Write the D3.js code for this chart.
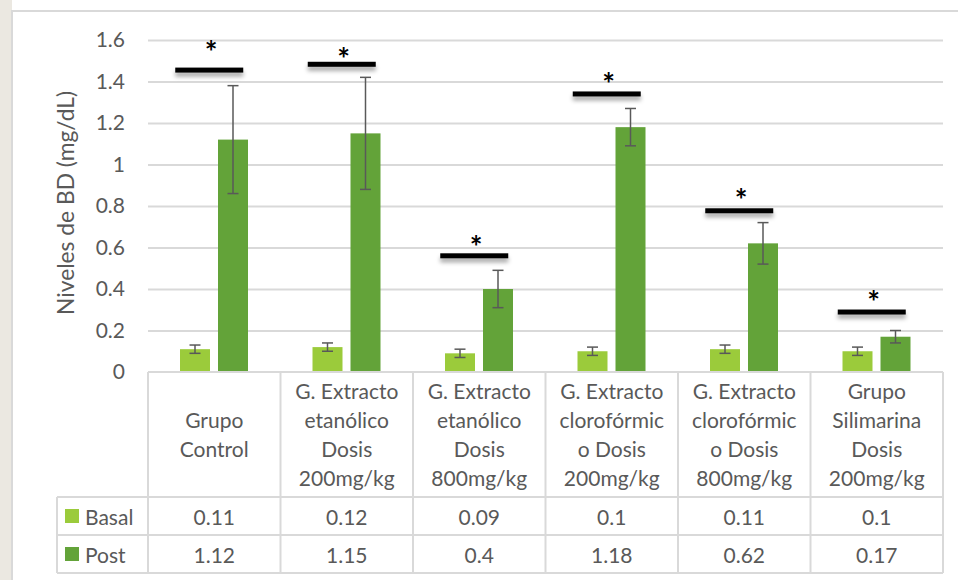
<!DOCTYPE html>
<html>
<head>
<meta charset="utf-8">
<script src="https://cdn.jsdelivr.net/npm/d3@7"></script>
<style>
  html, body { margin: 0; padding: 0; background: #ffffff; }
  svg { display: block; }
  text { font-family: Lato, "Open Sans", sans-serif; }
</style>
</head>
<body>
<svg id="chart" width="958" height="580"></svg>
<script>
// ---- data ----
const categories = [
  ["Grupo", "Control"],
  ["G. Extracto", "etanólico", "Dosis", "200mg/kg"],
  ["G. Extracto", "etanólico", "Dosis", "800mg/kg"],
  ["G. Extracto", "clorofórmic", "o Dosis", "200mg/kg"],
  ["G. Extracto", "clorofórmic", "o Dosis", "800mg/kg"],
  ["Grupo", "Silimarina", "Dosis", "200mg/kg"]
];
const seriesNames = ["Basal", "Post"];
const basalValues = [0.11, 0.12, 0.09, 0.1, 0.11, 0.1];
const postValues = [1.12, 1.15, 0.4, 1.18, 0.62, 0.17];
const basalErr = [0.02, 0.02, 0.02, 0.02, 0.02, 0.02];
const postErr = [0.26, 0.27, 0.09, 0.09, 0.10, 0.03];
const basalLabels = ["0.11", "0.12", "0.09", "0.1", "0.11", "0.1"];
const postLabels = ["1.12", "1.15", "0.4", "1.18", "0.62", "0.17"];
const sigLevel = [1.455, 1.483, 0.56, 1.34, 0.777, 0.289];
const starLevel = [1.576, 1.542, 0.636, 1.42, 0.863, 0.371];
const yTicks = [0, 0.2, 0.4, 0.6, 0.8, 1, 1.2, 1.4, 1.6];
const yTickLabels = ["0", "0.2", "0.4", "0.6", "0.8", "1", "1.2", "1.4", "1.6"];
const yTitle = "Niveles de BD (mg/dL)";

// ---- layout ----
const colors = { Basal: "#9BCB3B", Post: "#63A339" };
const textColor = "#595959";
const fs = 21;
const svg = d3.select("#chart");
const plotL = 148, plotR = 943, plotT = 40, plotB = 372;
const headerB = 497, row1B = 535, row2B = 573, legendL = 57;

const x = d3.scaleBand().domain(d3.range(categories.length)).range([plotL, plotR]).padding(0);
const xs = d3.scaleBand().domain(seriesNames).range([32, 100]).paddingInner(8 / 38).paddingOuter(0);
const y = d3.scaleLinear().domain([0, 1.6]).range([plotB, plotT]);

// background / outer border
svg.append("rect").attr("x", 0).attr("y", 0).attr("width", 12).attr("height", 580).attr("fill", "#ebe8e1");
svg.append("rect").attr("x", 12).attr("y", 11).attr("width", 960).attr("height", 600)
  .attr("fill", "#ffffff").attr("stroke", "#d9d9d9").attr("stroke-width", 2);

// defs: shadow
const defs = svg.append("defs");
const f = defs.append("filter").attr("id", "shadow").attr("filterUnits", "userSpaceOnUse")
  .attr("x", 0).attr("y", 0).attr("width", 958).attr("height", 580);
f.append("feDropShadow").attr("dx", 0).attr("dy", 4).attr("stdDeviation", 2.2)
  .attr("flood-color", "#000").attr("flood-opacity", 0.35);

// gridlines
const yAxis = d3.axisLeft(y).tickValues(yTicks).tickFormat((d, i) => yTickLabels[i]).tickSize(-(plotR - plotL)).tickPadding(23);
const gy = svg.append("g").attr("transform", `translate(${plotL},0)`).call(yAxis);
gy.select(".domain").remove();
gy.selectAll(".tick line").attr("stroke", "#d9d9d9").attr("stroke-width", 2)
  .filter(d => d === 0).remove();
gy.selectAll(".tick text").attr("fill", textColor).attr("font-size", fs);

// y title
svg.append("text").attr("transform", `translate(65,203) rotate(-90)`)
  .attr("text-anchor", "middle").attr("dominant-baseline", "central")
  .attr("fill", textColor).attr("font-size", 22.8).text(yTitle);

// bars
const groups = svg.append("g").selectAll("g").data(categories).join("g")
  .attr("transform", (d, i) => `translate(${x(i)},0)`);
const seriesVals = { Basal: basalValues, Post: postValues };
const seriesErr = { Basal: basalErr, Post: postErr };
seriesNames.forEach(s => {
  groups.append("rect")
    .attr("x", xs(s)).attr("width", xs.bandwidth())
    .attr("y", (d, i) => y(seriesVals[s][i]))
    .attr("height", (d, i) => plotB - y(seriesVals[s][i]))
    .attr("fill", colors[s]);
  // error bars
  const eg = groups.append("g").attr("stroke", "#595959").attr("stroke-width", 1.5);
  const cx = xs(s) + xs.bandwidth() / 2;
  eg.append("line").attr("x1", cx).attr("x2", cx)
    .attr("y1", (d, i) => y(seriesVals[s][i] + seriesErr[s][i]))
    .attr("y2", (d, i) => y(seriesVals[s][i] - seriesErr[s][i]));
  eg.append("line").attr("x1", cx - 5.5).attr("x2", cx + 5.5)
    .attr("y1", (d, i) => y(seriesVals[s][i] + seriesErr[s][i]))
    .attr("y2", (d, i) => y(seriesVals[s][i] + seriesErr[s][i]));
  eg.append("line").attr("x1", cx - 5.5).attr("x2", cx + 5.5)
    .attr("y1", (d, i) => y(seriesVals[s][i] - seriesErr[s][i]))
    .attr("y2", (d, i) => y(seriesVals[s][i] - seriesErr[s][i]));
});

// significance markers
const sigCx = x.bandwidth() / 2 - 5;
groups.append("rect")
  .attr("x", sigCx - 34).attr("width", 68)
  .attr("y", (d, i) => y(sigLevel[i]) - 2.5).attr("height", 5)
  .attr("fill", "#000").attr("filter", "url(#shadow)");
groups.append("text")
  .attr("x", sigCx + 2).attr("y", (d, i) => y(starLevel[i]) + 18)
  .attr("text-anchor", "middle").attr("font-size", 30).attr("font-weight", "bold")
  .attr("fill", "#000").attr("font-family", "DejaVu Sans, sans-serif").text("*");

// table
const tableStroke = "#d9d9d9";
const tg = svg.append("g").attr("stroke", tableStroke).attr("stroke-width", 2).attr("fill", "none");
tg.append("line").attr("x1", plotL).attr("x2", plotR).attr("y1", plotB).attr("y2", plotB);
tg.append("line").attr("x1", legendL).attr("x2", plotR).attr("y1", headerB).attr("y2", headerB);
tg.append("line").attr("x1", legendL).attr("x2", plotR).attr("y1", row1B).attr("y2", row1B);
tg.append("line").attr("x1", legendL).attr("x2", plotR).attr("y1", row2B).attr("y2", row2B);
tg.append("line").attr("x1", legendL).attr("x2", legendL).attr("y1", headerB).attr("y2", row2B);
d3.range(categories.length + 1).forEach(i => {
  const xx = i < categories.length ? x(i) : plotR;
  tg.append("line").attr("x1", xx).attr("x2", xx).attr("y1", plotB).attr("y2", row2B);
});

// header text
const lineH = 29, firstLine = 390.5;
groups.each(function (lines, i) {
  const g = d3.select(this);
  const off = (4 - lines.length) / 2 * lineH;
  lines.forEach((t, k) => {
    g.append("text").attr("x", x.bandwidth() / 2).attr("y", firstLine + off + k * lineH)
      .attr("text-anchor", "middle").attr("dominant-baseline", "central")
      .attr("fill", textColor).attr("font-size", fs).text(t);
  });
});

// data rows
const rows = [
  { name: "Basal", labels: basalLabels, cy: (headerB + row1B) / 2 },
  { name: "Post", labels: postLabels, cy: (row1B + row2B) / 2 }
];
rows.forEach(r => {
  svg.append("rect").attr("x", 65).attr("y", r.cy - 7).attr("width", 14).attr("height", 14).attr("fill", colors[r.name]);
  svg.append("text").attr("x", 85).attr("y", r.cy).attr("dominant-baseline", "central")
    .attr("fill", textColor).attr("font-size", fs).text(r.name);
  r.labels.forEach((t, i) => {
    svg.append("text").attr("x", x(i) + x.bandwidth() / 2).attr("y", r.cy)
      .attr("text-anchor", "middle").attr("dominant-baseline", "central")
      .attr("fill", textColor).attr("font-size", fs).text(t);
  });
});
</script>
</body>
</html>
